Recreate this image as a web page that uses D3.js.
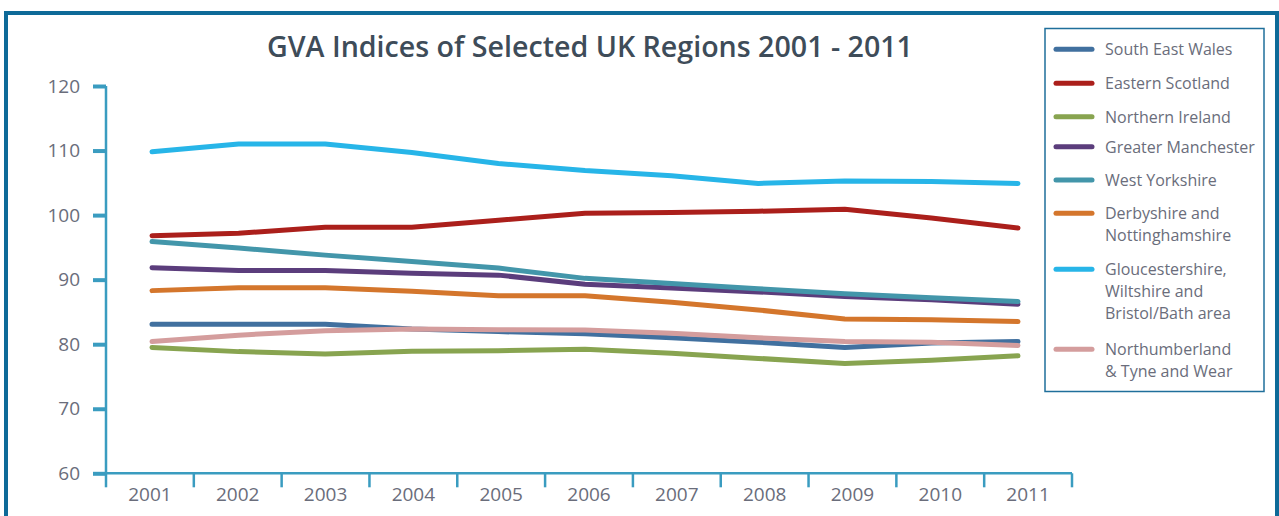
<!DOCTYPE html>
<html><head><meta charset="utf-8">
<script src="https://cdn.jsdelivr.net/npm/d3@7"></script>
<style>
html,body{margin:0;padding:0;background:#fff;}
svg{display:block;}
</style></head>
<body>
<svg id="chart" width="1279" height="516"></svg>
<script>
const years = ["2001","2002","2003","2004","2005","2006","2007","2008","2009","2010","2011"];
const yTicks = [60,70,80,90,100,110,120];
const seriesNames = ["South East Wales","Eastern Scotland","Northern Ireland","Greater Manchester","West Yorkshire","Derbyshire and Nottinghamshire","Gloucestershire, Wiltshire and Bristol/Bath area","Northumberland & Tyne and Wear"];
const legendLines = [["South East Wales"],["Eastern Scotland"],["Northern Ireland"],["Greater Manchester"],["West Yorkshire"],["Derbyshire and","Nottinghamshire"],["Gloucestershire,","Wiltshire and","Bristol/Bath area"],["Northumberland","& Tyne and Wear"]];
const seriesColors = ["#41709f","#ab1f1b","#88a450","#5b3d7c","#4396aa","#d4762c","#27b5e8","#d49d9d"];

const southEastWales   = [83.1,83.1,83.1,82.35,81.95,81.6,81.0,80.3,79.5,80.2,80.4];
const easternScotland  = [96.8,97.2,98.1,98.1,99.2,100.3,100.4,100.6,100.9,99.55,98.0];
const northernIreland  = [79.5,78.85,78.5,78.9,79.0,79.2,78.6,77.8,77.0,77.5,78.2];
const greaterManchester= [91.85,91.4,91.4,91.0,90.7,89.3,88.7,88.1,87.4,86.9,86.2];
const westYorkshire    = [95.9,94.9,93.8,92.8,91.8,90.2,89.4,88.6,87.8,87.2,86.6];
const derbyNotts       = [88.3,88.75,88.75,88.2,87.5,87.5,86.5,85.3,83.9,83.8,83.5];
const gloucsWilts      = [109.8,111.0,111.0,109.7,108.0,106.9,106.1,104.9,105.3,105.2,104.9];
const northumberland   = [80.4,81.4,82.1,82.35,82.25,82.2,81.7,81.0,80.4,80.3,79.8];
const seriesValues = [southEastWales,easternScotland,northernIreland,greaterManchester,westYorkshire,derbyNotts,gloucsWilts,northumberland];

const svg = d3.select("#chart");
const axisColor = "#3a9cc0";
const textColor = "#6a6d7b";
const font = "'Open Sans', 'Noto Sans', sans-serif";

// outer frame
svg.append("rect").attr("x",6).attr("y",13).attr("width",1271).attr("height",520)
  .attr("fill","#fff").attr("stroke","#0e6a98").attr("stroke-width",4);

// title
svg.append("text").attr("x",590).attr("y",57).attr("text-anchor","middle")
  .attr("font-family",font).attr("font-weight",600).attr("font-size",28.6)
  .attr("fill","#3e4c59").text("GVA Indices of Selected UK Regions 2001 - 2011");

const y = d3.scaleLinear().domain([60,120]).range([473.3,86]);
const xBand = d3.scaleBand().domain(years).range([106,1072]);
const xPt = d3.scalePoint().domain(years).range([152,1018]);

// y axis
const yAxis = svg.append("g").attr("transform","translate(106,0)")
  .call(d3.axisLeft(y).tickValues(yTicks).tickSize(13).tickPadding(13).tickFormat(d3.format("d")));
yAxis.select(".domain").attr("stroke",axisColor).attr("stroke-width",2.5).attr("d","M0,86V473.3");
yAxis.selectAll(".tick line").attr("stroke",axisColor).attr("stroke-width",4);
yAxis.selectAll(".tick text").attr("fill",textColor).attr("font-family",font).attr("font-size",19);

// x axis
const xAxis = svg.append("g").attr("transform","translate(0,473.3)")
  .call(d3.axisBottom(xBand).tickSize(0).tickPadding(14));
xAxis.select(".domain").attr("stroke",axisColor).attr("stroke-width",2.5).attr("d","M106,0H1072");
xAxis.selectAll(".tick text").attr("fill",textColor).attr("font-family",font).attr("font-size",19);
const bounds = years.map(d=>xBand(d)).concat([xBand.range()[1]]);
xAxis.selectAll(".bt").data(bounds).enter().append("line")
  .attr("x1",d=>d).attr("x2",d=>d).attr("y1",0).attr("y2",14)
  .attr("stroke",axisColor).attr("stroke-width",2.5);

// lines
const line = d3.line().x((d,i)=>xPt(years[i])).y(d=>y(d));
svg.append("g").selectAll("path").data(seriesValues).enter().append("path")
  .attr("d",d=>line(d)).attr("fill","none")
  .attr("stroke",(d,i)=>seriesColors[i]).attr("stroke-width",5)
  .attr("stroke-linecap","round").attr("stroke-linejoin","round");

// legend
svg.append("rect").attr("x",1045).attr("y",28.5).attr("width",219).attr("height",363)
  .attr("fill","#fff").attr("stroke","#1f6f9b").attr("stroke-width",1.5);
const legendY = [49.3,83.3,116.7,146.7,180,213.3,269.3,349.3];
const lg = svg.append("g");
seriesNames.forEach((n,i)=>{
  lg.append("line").attr("x1",1056).attr("x2",1092).attr("y1",legendY[i]).attr("y2",legendY[i])
    .attr("stroke",seriesColors[i]).attr("stroke-width",5).attr("stroke-linecap","round");
  const t = lg.append("text").attr("x",1105).attr("y",legendY[i]+6)
    .attr("font-family",font).attr("font-size",16).attr("fill",textColor);
  legendLines[i].forEach((s,j)=>{
    t.append("tspan").attr("x",1105).attr("dy",j===0?0:22).text(s);
  });
});
</script>
</body></html>
